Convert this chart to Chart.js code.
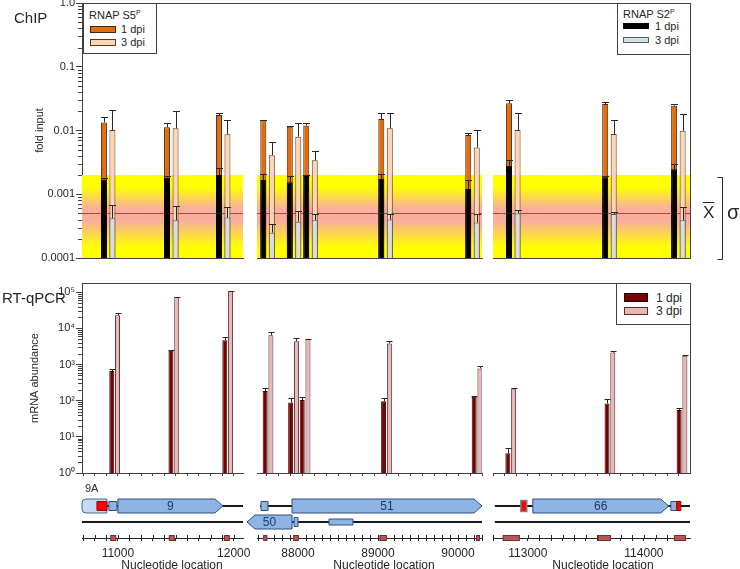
<!DOCTYPE html>
<html>
<head>
<meta charset="utf-8">
<title>ChIP and RT-qPCR</title>
<script src="https://cdn.jsdelivr.net/npm/chart.js@4.4.1/dist/chart.umd.min.js"></script>
<style>
html, body { margin:0; padding:0; background:#fff; }
#fig { position:relative; width:740px; height:569px; overflow:hidden; font-family:'Liberation Sans', Arial, Helvetica, sans-serif; color:#262626; }
#fig canvas { position:absolute; }
.t { position:absolute; white-space:nowrap; line-height:1; }
.rule { position:absolute; background:#404040; }
.lg { position:absolute; background:#fff; border:1px solid #404040; box-sizing:border-box; font-size:11px; z-index:5; }
.lg .sw { position:absolute; box-sizing:border-box; }
.lg .tx { position:absolute; line-height:1; white-space:nowrap; }
.lg sup { font-size:7px; vertical-align:top; position:relative; top:-1px; }
.ctr { transform:translateX(-50%); }
</style>
</head>
<body>
<div id="fig">
  <canvas id="t1" width="244" height="262" style="left:0;top:0"></canvas>
  <canvas id="t2" width="227" height="262" style="left:256px;top:0"></canvas>
  <canvas id="t3" width="248" height="262" style="left:492px;top:0"></canvas>
  <canvas id="b1" width="244" height="197" style="left:0;top:280px"></canvas>
  <canvas id="b2" width="227" height="197" style="left:256px;top:280px"></canvas>
  <canvas id="b3" width="199" height="197" style="left:492px;top:280px"></canvas>
  <canvas id="g1" width="256" height="94" style="left:0;top:478px"></canvas>
  <canvas id="g2" width="251" height="94" style="left:244px;top:478px"></canvas>
  <canvas id="g3" width="199" height="94" style="left:492px;top:478px"></canvas>

  <div class="rule" style="left:82px;top:3px;width:609px;height:1px"></div>
  <div class="rule" style="left:690px;top:3px;width:1px;height:256px"></div>
  <div class="rule" style="left:82px;top:283px;width:609px;height:1px"></div>
  <div class="rule" style="left:690px;top:283px;width:1px;height:191px"></div>

  <div class="t" style="left:14px;top:10px;font-size:15px">ChIP</div>
  <div class="t" style="left:2px;top:290px;font-size:15px">RT-qPCR</div>
  <div class="t" style="left:85px;top:483px;font-size:11px">9A</div>
  <div class="t" style="left:703px;top:204px;font-size:17px;"><span style="text-decoration:overline">X</span></div>
  <div class="t" style="left:727px;top:202px;font-size:20px">σ</div>
  <div class="t ctr" style="left:172px;top:559px;font-size:12px">Nucleotide location</div>
  <div class="t ctr" style="left:384px;top:559px;font-size:12px">Nucleotide location</div>
  <div class="t ctr" style="left:603px;top:559px;font-size:12px">Nucleotide location</div>

  <div class="lg" style="left:83px;top:3px;width:74px;height:51px">
    <div class="tx" style="left:5px;top:6px">RNAP S5<sup>P</sup></div>
    <div class="sw" style="left:6px;top:22px;width:26px;height:7px;background:#e46c0a;border:1px solid #3f2a1a"></div>
    <div class="tx" style="left:37px;top:20px">1 dpi</div>
    <div class="sw" style="left:6px;top:35px;width:26px;height:7px;background:#fbd5b5;border:1px solid #5a3b22"></div>
    <div class="tx" style="left:37px;top:33px">3 dpi</div>
  </div>
  <div class="lg" style="left:617px;top:3px;width:74px;height:52px">
    <div class="tx" style="left:5px;top:5px">RNAP S2<sup>P</sup></div>
    <div class="sw" style="left:5px;top:19px;width:26px;height:6px;background:#000;border:1px solid #000"></div>
    <div class="tx" style="left:37px;top:17px">1 dpi</div>
    <div class="sw" style="left:5px;top:33px;width:26px;height:6px;background:#dcdcdc;border:1px solid #3e6472"></div>
    <div class="tx" style="left:37px;top:31px">3 dpi</div>
  </div>
  <div class="lg" style="left:616px;top:283px;width:75px;height:42px;font-size:12px">
    <div class="sw" style="left:7px;top:9px;width:24px;height:9px;background:#7a0000;border:1px solid #2b0000"></div>
    <div class="tx" style="left:39px;top:8px">1 dpi</div>
    <div class="sw" style="left:7px;top:23px;width:24px;height:8px;background:#e6b9b8;border:1px solid #5a2d2d"></div>
    <div class="tx" style="left:39px;top:21px">3 dpi</div>
  </div>
</div>

<script>
// ---------------- DATA ----------------
// axis ranges of the three broken-axis segments (nucleotide location)
const segRange1 = [10690, 12080];
const segRange2 = [87487, 90300];
const segRange3 = [112700, 114397];

// ChIP y-axis ticks
const chipTickValues = [0.0001, 0.001, 0.01, 0.1, 1];
const chipTickLabels = ['0.0001', '0.001', '0.01', '0.1', '1.0'];
// background noise band (mean and upper limit)
const chipNoiseMean = 0.0005;
const chipNoiseUpper = 0.002;
const chipNoiseLower = 0.0001;

// ChIP, segment 1
const chipLoc1 = [10916, 11461, 11909];
const chipS5P1dpi1 = [0.0134, 0.0112, 0.0175];
const chipS5P1dpiHi1 = [0.0165, 0.0133, 0.0190];
const chipS5P3dpi1 = [0.0102, 0.0108, 0.0087];
const chipS5P3dpiHi1 = [0.0210, 0.0205, 0.0146];
const chipS2P1dpi1 = [0.00171, 0.00182, 0.0020];
const chipS2P1dpiHi1 = [0.00180, 0.00190, 0.0026];
const chipS2P3dpi1 = [0.00042, 0.00039, 0.00043];
const chipS2P3dpiHi1 = [0.00068, 0.00066, 0.00064];
// ChIP, segment 2
const chipLoc2 = [87619, 87950, 88156, 89094, 90181];
const chipS5P1dpi2 = [0.0146, 0.0115, 0.0119, 0.0152, 0.0085];
const chipS5P1dpiHi2 = [0.0148, 0.0117, 0.0133, 0.0190, 0.0093];
const chipS5P3dpi2 = [0.0041, 0.0080, 0.0034, 0.0108, 0.0054];
const chipS5P3dpiHi2 = [0.0067, 0.0133, 0.0048, 0.0190, 0.0102];
const chipS2P1dpi2 = [0.00167, 0.00154, 0.00193, 0.00174, 0.00121];
const chipS2P1dpiHi2 = [0.0021, 0.0019, 0.0020, 0.0021, 0.0017];
const chipS2P3dpi2 = [0.00025, 0.00037, 0.00039, 0.00040, 0.00036];
const chipS2P3dpiHi2 = [0.00034, 0.00055, 0.00049, 0.00049, 0.00049];
// ChIP, segment 3
const chipLoc3 = [112875, 113703, 114297];
const chipS5P1dpi3 = [0.0267, 0.0260, 0.0245];
const chipS5P1dpiHi3 = [0.0300, 0.0280, 0.0260];
const chipS5P3dpi3 = [0.0102, 0.0088, 0.0099];
const chipS5P3dpiHi3 = [0.0186, 0.0146, 0.0181];
const chipS2P1dpi3 = [0.0028, 0.00185, 0.00246];
const chipS2P1dpiHi3 = [0.0034, 0.0019, 0.0030];
const chipS2P3dpi3 = [0.00050, 0.00049, 0.00039];
const chipS2P3dpiHi3 = [0.00057, 0.00053, 0.00062];

// RT-qPCR y-axis ticks
const rtTickValues = [1, 10, 100, 1000, 10000, 100000];
const rtTickLabels = ['10⁰', '10¹', '10²', '10³', '10⁴', '10⁵'];
// RT-qPCR, segment 1
const rtLoc1 = [10972, 11483, 11948];
const rt1dpi1 = [658, 2400, 4720];
const rt1dpiHi1 = [745, 2450, 5860];
const rt3dpi1 = [23200, 74000, 107000];
const rt3dpiHi1 = [26700, 76000, 109000];
// RT-qPCR, segment 2
const rtLoc2 = [87625, 87944, 88088, 89106, 90238];
const rt1dpi2 = [184, 89, 104, 97, 128];
const rt1dpiHi2 = [227, 120, 124, 120, 137];
const rt3dpi2 = [6500, 4430, 5130, 3830, 780];
const rt3dpiHi2 = [7700, 5450, 5200, 4430, 890];
// RT-qPCR, segment 3
const rtLoc3 = [112853, 113707, 114328];
const rt1dpi3 = [3.5, 84, 55];
const rt1dpiHi3 = [4.8, 109, 61];
const rt3dpi3 = [219, 2150, 1740];
const rt3dpiHi3 = [225, 2340, 1780];

// gene map: [name, kind, strand, start, end]
const genes1 = [
  ['9A', 'utr', '+', 10690, 10905],
  ['', 'red', '+', 10819, 10905],
  ['', 'exon', '+', 10922, 10991],
  ['9', 'gene', '+', 11000, 11907]
];
const genes2 = [
  ['', 'exon', '+', 87537, 87625],
  ['51', 'gene', '+', 87925, 90300],
  ['50', 'gene', '-', 87362, 87925],
  ['', 'exon', '-', 87950, 88000],
  ['', 'thin', '-', 88387, 88687]
];
const genes3 = [
  ['', 'redBoxed', '+', 112940, 112991],
  ['66', 'gene', '+', 113043, 114214],
  ['', 'exon', '+', 114232, 114283],
  ['', 'red', '+', 114283, 114318]
];
// strand lines: [strand, start, end]
const strands1 = [['+', 10690, 12080], ['-', 10690, 12080]];
const strands2 = [['+', 87525, 90300], ['-', 87362, 90300]];
const strands3 = [['+', 112716, 114397], ['-', 112716, 114397]];
// amplicons on the ruler: [start, end]
const amplicons1 = [[10935, 10985], [11440, 11490], [11915, 11965]];
const amplicons2 = [[87565, 87615], [87940, 88010], [89020, 89110], [90225, 90275]];
const amplicons3 = [[112784, 112931], [113603, 113716], [114259, 114362]];
// ruler labels
const rulerLabels1 = [11000, 12000];
const rulerLabels2 = [88000, 89000, 90000];
const rulerLabels3 = [113000, 114000];

// ---------------- STYLE / HELPERS ----------------
Chart.defaults.font.family = "'Liberation Sans', Arial, sans-serif";
Chart.defaults.font.size = 11;
Chart.defaults.color = '#262626';
Chart.defaults.animation = false;
Chart.defaults.responsive = false;
Chart.defaults.events = [];
Chart.defaults.plugins.legend.display = false;
Chart.defaults.plugins.tooltip.enabled = false;

const AXIS = '#404040';
const COL = {
  s5p1: ['#e46c0a', '#3f2a1a'], s5p3: ['#fbd5b5', '#5a3b22'],
  s2p1: ['#000000', '#000000'], s2p3: ['#dcdcdc', '#4a5a60'],
  rt1: ['#7a0000', '#2b0000'], rt3: ['#e6b9b8', '#5a2d2d']
};
const strandRow = { '+': 4, '-': 2 };
const featureStyle = {
  gene: { h: 14, fill: '#8db4e2', stroke: '#2f4f7f' },
  utr: { h: 14, fill: '#c6d9f1', stroke: '#4a6890' },
  exon: { h: 9, fill: '#8db4e2', stroke: '#2f4f7f' },
  thin: { h: 6, fill: '#8db4e2', stroke: '#2f4f7f' },
  red: { h: 9, fill: '#ff0000', stroke: '#a00000' },
  redBoxed: { h: 11, fill: '#ff0000', stroke: '#7f7f7f' }
};

function stepTicks(range, step) {
  const out = [];
  for (let v = Math.ceil(range[0] / step) * step; v <= range[1]; v += step) out.push({ value: v });
  return out;
}
// category percentage so that a bar group has a given pixel width
function groupPercent(range, widthPx, locs, step, groupPx) {
  const ppn = widthPx / (range[1] - range[0]);
  let minPx = step * ppn;
  const s = [...locs].sort((a, b) => a - b);
  for (let i = 1; i < s.length; i++) minPx = Math.min(minPx, (s[i] - s[i - 1]) * ppn);
  return groupPx / minPx;
}

const errorBarPlugin = {
  id: 'errorBars',
  afterDatasetsDraw(chart) {
    const { ctx } = chart; const yS = chart.scales.y;
    ctx.save(); ctx.strokeStyle = '#262626'; ctx.lineWidth = 1;
    chart.data.datasets.forEach((ds, i) => {
      if (!ds.upper) return;
      chart.getDatasetMeta(i).data.forEach((bar, j) => {
        const top = Math.round(yS.getPixelForValue(ds.upper[j])) + 0.5;
        const x = Math.round(bar.x) + 0.5;
        const half = bar.width / 2 + 0.5;
        ctx.beginPath();
        ctx.moveTo(x, bar.y); ctx.lineTo(x, top);
        ctx.moveTo(x - half, top); ctx.lineTo(x + half, top);
        ctx.stroke();
      });
    });
    ctx.restore();
  }
};

const minorTickPlugin = {
  id: 'minorTicks',
  afterDraw(chart) {
    const s = chart.scales.y; if (!s || !s.options.display) return;
    const { ctx } = chart;
    ctx.save(); ctx.strokeStyle = AXIS; ctx.lineWidth = 1;
    const e0 = Math.floor(Math.log10(s.min)), e1 = Math.ceil(Math.log10(s.max));
    for (let e = e0; e <= e1; e++) {
      for (let m = 2; m <= 9; m++) {
        const v = m * Math.pow(10, e);
        if (v < s.min || v > s.max) continue;
        const y = Math.round(s.getPixelForValue(v)) + 0.5;
        ctx.beginPath(); ctx.moveTo(s.right - 4, y); ctx.lineTo(s.right, y); ctx.stroke();
      }
    }
    ctx.restore();
  }
};

function bandPlugin(withBracket) {
  return {
    id: 'noiseBand',
    beforeDatasetsDraw(chart) {
      const { ctx, chartArea: { left, right } } = chart; const y = chart.scales.y;
      const yTop = y.getPixelForValue(chipNoiseUpper);
      const yMean = y.getPixelForValue(chipNoiseMean);
      const yBot = y.getPixelForValue(chipNoiseLower);
      const h = yBot - yTop;
      const g = ctx.createLinearGradient(0, yTop, 0, yBot);
      const pm = (yMean - yTop) / h;
      g.addColorStop(0, '#ffff00');
      g.addColorStop(0.14, '#ffff00');
      g.addColorStop(Math.max(0.15, pm - 0.06), '#f9b09e');
      g.addColorStop(Math.min(0.99, pm + 0.08), '#f9aca0');
      g.addColorStop(0.87, '#ffff00');
      g.addColorStop(1, '#ffff00');
      ctx.save();
      ctx.fillStyle = g; ctx.fillRect(left, yTop, right - left, h);
      ctx.strokeStyle = '#ff2020'; ctx.lineWidth = 1;
      const ym = Math.round(yMean) + 0.5;
      ctx.beginPath(); ctx.moveTo(left, ym); ctx.lineTo(right, ym); ctx.stroke();
      ctx.restore();
    },
    afterDraw(chart) {
      if (!withBracket) return;
      const { ctx, chartArea: { right } } = chart; const y = chart.scales.y;
      const yTop = Math.round(y.getPixelForValue(chipNoiseUpper)) + 2.5;
      const yBot = Math.round(y.getPixelForValue(chipNoiseLower)) + 1.5;
      const bx = right + 32.5;
      ctx.save(); ctx.strokeStyle = '#262626'; ctx.lineWidth = 1;
      ctx.beginPath();
      ctx.moveTo(bx - 5, yTop); ctx.lineTo(bx, yTop); ctx.lineTo(bx, yBot); ctx.lineTo(bx - 5, yBot);
      ctx.stroke(); ctx.restore();
    }
  };
}

function makeBarDataset(label, loc, vals, hi, stack, col, cat, barPct) {
  return {
    label, stack, upper: hi,
    data: loc.map((x, i) => ({ x, y: vals[i] })),
    backgroundColor: col[0], borderColor: col[1], borderWidth: 1,
    categoryPercentage: cat, barPercentage: barPct
  };
}

function xBarAxis(range, step, showTicks) {
  return {
    type: 'linear', min: range[0], max: range[1], offset: false,
    afterBuildTicks: s => { s.ticks = stepTicks(range, step); },
    afterFit: s => { s.height = 0; s.paddingLeft = 0; s.paddingRight = 0; },
    ticks: { display: false },
    grid: showTicks
      ? { display: true, drawOnChartArea: false, drawTicks: true, tickLength: 3, offset: false, color: AXIS }
      : { display: false, offset: false },
    border: { display: true, color: AXIS }
  };
}

function yLogAxis(min, max, first, tickVals, tickLabels, title, titlePad) {
  if (!first) return { type: 'logarithmic', min, max, display: false, stacked: false };
  return {
    type: 'logarithmic', min, max, stacked: false,
    afterBuildTicks: s => { s.ticks = tickVals.map(v => ({ value: v })); },
    afterFit: s => { s.width = 82; s.paddingTop = 0; s.paddingBottom = 0; },
    ticks: { callback: (v, i) => tickLabels[i], padding: 1, autoSkip: false, color: '#262626', font: { size: 11 } },
    grid: { display: true, drawOnChartArea: false, drawTicks: true, tickLength: 6, color: AXIS },
    border: { display: true, color: AXIS },
    title: { display: true, text: title, color: '#262626', font: { size: 11 }, padding: { top: titlePad, bottom: 0 } }
  };
}

function chipChart(id, range, widthPx, loc, s2p1, s2p1Hi, s2p3, s2p3Hi, s5p1, s5p1Hi, s5p3, s5p3Hi, pad, first, bracket) {
  const cat = groupPercent(range, widthPx, loc, 100, 17);
  const bp = 6 / 8.5;
  const plugins = [bandPlugin(bracket), errorBarPlugin];
  if (first) plugins.push(minorTickPlugin);
  return new Chart(document.getElementById(id), {
    type: 'bar',
    data: {
      datasets: [
        makeBarDataset('RNAP S2P 1 dpi', loc, s2p1, s2p1Hi, '1dpi', COL.s2p1, cat, bp),
        makeBarDataset('RNAP S2P 3 dpi', loc, s2p3, s2p3Hi, '3dpi', COL.s2p3, cat, bp),
        makeBarDataset('RNAP S5P 1 dpi', loc, s5p1, s5p1Hi, '1dpi', COL.s5p1, cat, bp),
        makeBarDataset('RNAP S5P 3 dpi', loc, s5p3, s5p3Hi, '3dpi', COL.s5p3, cat, bp)
      ]
    },
    options: {
      layout: { padding: pad },
      scales: {
        x: xBarAxis(range, 100, false),
        y: yLogAxis(1e-4, 1, first, chipTickValues, chipTickLabels, 'fold input', 33)
      }
    },
    plugins
  });
}

function rtChart(id, range, widthPx, step, loc, d1, d1Hi, d3, d3Hi, pad, first) {
  const cat = groupPercent(range, widthPx, loc, step, 11.5);
  const bp = 5 / 5.75;
  const plugins = [errorBarPlugin];
  if (first) plugins.push(minorTickPlugin);
  return new Chart(document.getElementById(id), {
    type: 'bar',
    data: {
      datasets: [
        makeBarDataset('1 dpi', loc, d1, d1Hi, 'a', COL.rt1, cat, bp),
        makeBarDataset('3 dpi', loc, d3, d3Hi, 'b', COL.rt3, cat, bp)
      ]
    },
    options: {
      layout: { padding: pad },
      scales: {
        x: xBarAxis(range, step, true),
        y: yLogAxis(1, 1.8e5, first, rtTickValues, rtTickLabels, 'mRNA abundance', 28)
      }
    },
    plugins
  });
}

function genePlugin(features, strands, amplicons) {
  return {
    id: 'geneTrack',
    afterDraw(chart) {
      const { ctx, chartArea } = chart; const x = chart.scales.x; const y = chart.scales.y;
      ctx.save();
      // strand lines
      ctx.strokeStyle = '#1a1a1a'; ctx.lineWidth = 2;
      strands.forEach(([st, a, b]) => {
        const yy = Math.round(y.getPixelForValue(strandRow[st]));
        ctx.beginPath(); ctx.moveTo(x.getPixelForValue(a), yy); ctx.lineTo(x.getPixelForValue(b), yy); ctx.stroke();
      });
      // features
      features.forEach(([name, kind, st, a, b]) => {
        const s = featureStyle[kind];
        const x0 = x.getPixelForValue(a), x1 = x.getPixelForValue(b);
        const yc = Math.round(y.getPixelForValue(strandRow[st]));
        const top = yc - s.h / 2, bot = yc + s.h / 2;
        ctx.beginPath();
        if (kind === 'gene') {
          const tip = Math.min(8, (x1 - x0) / 2);
          if (st === '+') {
            ctx.moveTo(x0, top); ctx.lineTo(x1 - tip, top); ctx.lineTo(x1, yc);
            ctx.lineTo(x1 - tip, bot); ctx.lineTo(x0, bot); ctx.closePath();
          } else {
            ctx.moveTo(x1, top); ctx.lineTo(x0 + tip, top); ctx.lineTo(x0, yc);
            ctx.lineTo(x0 + tip, bot); ctx.lineTo(x1, bot); ctx.closePath();
          }
        } else if (kind === 'utr' && ctx.roundRect) {
          ctx.roundRect(x0, top, x1 - x0, s.h, [4, 0, 0, 4]);
        } else {
          ctx.rect(x0, top, x1 - x0, s.h);
        }
        ctx.fillStyle = s.fill; ctx.fill();
        ctx.strokeStyle = s.stroke; ctx.lineWidth = kind === 'redBoxed' ? 1.5 : 1; ctx.stroke();
        if (kind === 'gene' && name) {
          ctx.fillStyle = '#1f3a60'; ctx.font = "12px 'Liberation Sans', Arial, sans-serif";
          ctx.textAlign = 'center'; ctx.textBaseline = 'middle';
          ctx.fillText(name, (x0 + x1) / 2, yc + 0.5);
        }
      });
      // upward ruler ticks
      const rb = chartArea.bottom;
      ctx.strokeStyle = '#262626'; ctx.lineWidth = 1;
      x.ticks.forEach(t => {
        const px = Math.round(x.getPixelForValue(t.value)) + 0.5;
        ctx.beginPath(); ctx.moveTo(px, rb - 3); ctx.lineTo(px, rb); ctx.stroke();
      });
      // amplicons
      amplicons.forEach(([a, b]) => {
        const x0 = x.getPixelForValue(a), x1 = x.getPixelForValue(b);
        ctx.fillStyle = '#b0585a'; ctx.strokeStyle = '#7b2b2b';
        ctx.fillRect(x0, rb - 3, x1 - x0, 6);
        ctx.strokeRect(x0 + 0.5, rb - 2.5, x1 - x0 - 1, 5);
      });
      ctx.restore();
    }
  };
}

function geneChart(id, range, labels, features, strands, amplicons, pad) {
  return new Chart(document.getElementById(id), {
    type: 'scatter',
    data: { datasets: [] },
    options: {
      layout: { padding: pad },
      scales: {
        x: {
          type: 'linear', min: range[0], max: range[1], offset: false,
          afterBuildTicks: s => { s.ticks = stepTicks(range, 100); },
          afterFit: s => { s.height = 34; s.paddingLeft = 0; s.paddingRight = 0; },
          ticks: { autoSkip: false, maxRotation: 0, padding: 5, color: '#262626', font: { size: 12 },
                   callback: v => labels.includes(v) ? String(v) : '' },
          grid: { display: true, drawOnChartArea: false, drawTicks: true, tickLength: 3, offset: false, color: '#262626' },
          border: { display: true, color: '#262626' }
        },
        y: { type: 'linear', min: 0, max: 7.25, display: false }
      }
    },
    plugins: [genePlugin(features, strands, amplicons)]
  });
}

// ---------------- BUILD ----------------
const padT1 = { left: 0, right: 1, top: 3, bottom: 4 };
const padT2 = { left: 1, right: 1, top: 3, bottom: 4 };
const padT3 = { left: 1, right: 50, top: 3, bottom: 4 };
chipChart('t1', segRange1, 161, chipLoc1, chipS2P1dpi1, chipS2P1dpiHi1, chipS2P3dpi1, chipS2P3dpiHi1,
          chipS5P1dpi1, chipS5P1dpiHi1, chipS5P3dpi1, chipS5P3dpiHi1, padT1, true, false);
chipChart('t2', segRange2, 225, chipLoc2, chipS2P1dpi2, chipS2P1dpiHi2, chipS2P3dpi2, chipS2P3dpiHi2,
          chipS5P1dpi2, chipS5P1dpiHi2, chipS5P3dpi2, chipS5P3dpiHi2, padT2, false, false);
chipChart('t3', segRange3, 197, chipLoc3, chipS2P1dpi3, chipS2P1dpiHi3, chipS2P3dpi3, chipS2P3dpiHi3,
          chipS5P1dpi3, chipS5P1dpiHi3, chipS5P3dpi3, chipS5P3dpiHi3, padT3, false, true);

const padB1 = { left: 0, right: 1, top: 3, bottom: 4 };
const padB2 = { left: 1, right: 1, top: 3, bottom: 4 };
const padB3 = { left: 1, right: 1, top: 3, bottom: 4 };
rtChart('b1', segRange1, 161, 100, rtLoc1, rt1dpi1, rt1dpiHi1, rt3dpi1, rt3dpiHi1, padB1, true);
rtChart('b2', segRange2, 225, 150, rtLoc2, rt1dpi2, rt1dpiHi2, rt3dpi2, rt3dpiHi2, padB2, false);
rtChart('b3', segRange3, 197, 100, rtLoc3, rt1dpi3, rt1dpiHi3, rt3dpi3, rt3dpiHi3, padB3, false);

geneChart('g1', segRange1, rulerLabels1, genes1, strands1, amplicons1, { left: 82, right: 13, top: 2, bottom: 0 });
geneChart('g2', segRange2, rulerLabels2, genes2, strands2, amplicons2, { left: 13, right: 13, top: 2, bottom: 0 });
geneChart('g3', segRange3, rulerLabels3, genes3, strands3, amplicons3, { left: 1, right: 1, top: 2, bottom: 0 });
</script>
</body>
</html>
